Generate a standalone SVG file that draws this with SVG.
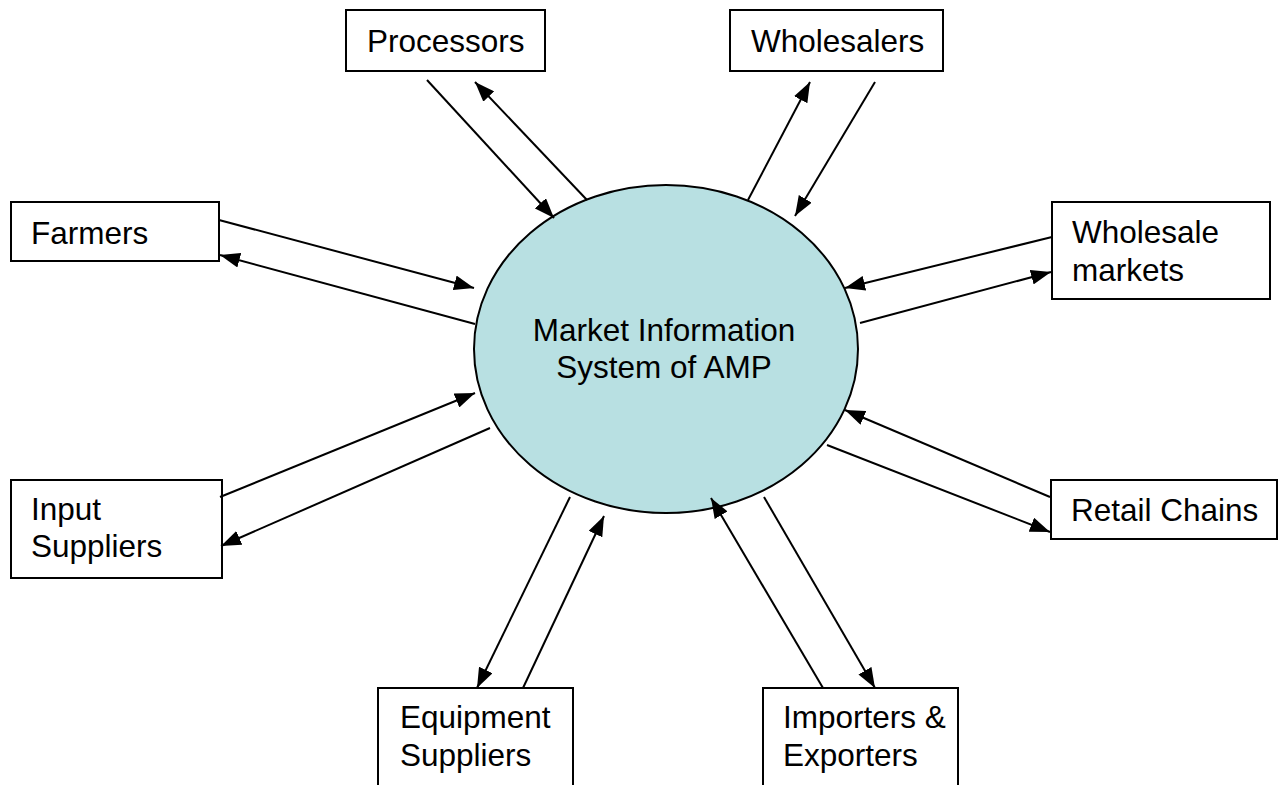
<svg xmlns="http://www.w3.org/2000/svg" width="1278" height="785" viewBox="0 0 1278 785">
<style>
.box{fill:#fff;stroke:#000;stroke-width:2}
.t{font-family:"Liberation Sans",Arial,sans-serif;font-size:31.5px;fill:#000}
.c{fill:none;stroke:#000;stroke-width:2}
</style>
<defs>
<marker id="ah" viewBox="0 0 20 15" refX="20" refY="7.5" markerWidth="20" markerHeight="15" markerUnits="userSpaceOnUse" orient="auto">
<path d="M0,0 L20,7.5 L0,15 z" fill="#000"/>
</marker>
</defs>
<rect width="1278" height="785" fill="#fff"/>
<g id="center">
<ellipse cx="666" cy="349" rx="192" ry="164" fill="#b8e0e2" stroke="#000" stroke-width="2"/>
<text class="t" x="664" y="341" text-anchor="middle">Market Information</text>
<text class="t" x="664" y="378" text-anchor="middle">System of AMP</text>
</g>
<g id="processors">
<rect class="box" x="346" y="10" width="199" height="61"/>
<text class="t" x="367" y="52">Processors</text>
</g>
<g id="wholesalers">
<rect class="box" x="730" y="10" width="213" height="61"/>
<text class="t" x="751" y="52">Wholesalers</text>
</g>
<g id="farmers">
<rect class="box" x="11" y="202" width="208" height="59"/>
<text class="t" x="31" y="244">Farmers</text>
</g>
<g id="wholesale-markets">
<rect class="box" x="1052" y="202" width="218" height="97"/>
<text class="t" x="1072" y="243">Wholesale</text>
<text class="t" x="1072" y="281">markets</text>
</g>
<g id="input-suppliers">
<rect class="box" x="11" y="480" width="211" height="98"/>
<text class="t" x="31" y="520">Input</text>
<text class="t" x="31" y="557">Suppliers</text>
</g>
<g id="retail-chains">
<rect class="box" x="1051" y="480" width="226" height="59"/>
<text class="t" x="1071" y="521">Retail Chains</text>
</g>
<g id="equipment-suppliers">
<rect class="box" x="378" y="688" width="195" height="120"/>
<text class="t" x="400" y="728">Equipment</text>
<text class="t" x="400" y="766">Suppliers</text>
</g>
<g id="importers-exporters">
<rect class="box" x="763" y="688" width="195" height="120"/>
<text class="t" x="783" y="728">Importers &amp;</text>
<text class="t" x="783" y="766">Exporters</text>
</g>
<g id="connectors">
<line class="c" x1="427" y1="80" x2="554" y2="218" marker-end="url(#ah)"/>
<line class="c" x1="587" y1="200" x2="475" y2="82" marker-end="url(#ah)"/>
<line class="c" x1="748" y1="200" x2="810" y2="82" marker-end="url(#ah)"/>
<line class="c" x1="875" y1="82" x2="795" y2="216" marker-end="url(#ah)"/>
<line class="c" x1="219" y1="220" x2="474" y2="288" marker-end="url(#ah)"/>
<line class="c" x1="475" y1="324" x2="220" y2="255" marker-end="url(#ah)"/>
<line class="c" x1="1052" y1="237" x2="845" y2="288" marker-end="url(#ah)"/>
<line class="c" x1="860" y1="323" x2="1051" y2="272" marker-end="url(#ah)"/>
<line class="c" x1="220" y1="497" x2="475" y2="393" marker-end="url(#ah)"/>
<line class="c" x1="490" y1="428" x2="221" y2="546" marker-end="url(#ah)"/>
<line class="c" x1="1050" y1="497" x2="845" y2="410" marker-end="url(#ah)"/>
<line class="c" x1="827" y1="445" x2="1050" y2="532" marker-end="url(#ah)"/>
<line class="c" x1="570" y1="497" x2="477" y2="688" marker-end="url(#ah)"/>
<line class="c" x1="523" y1="688" x2="604" y2="516" marker-end="url(#ah)"/>
<line class="c" x1="823" y1="688" x2="711" y2="498" marker-end="url(#ah)"/>
<line class="c" x1="764" y1="497" x2="875" y2="688" marker-end="url(#ah)"/>
</g>
</svg>
